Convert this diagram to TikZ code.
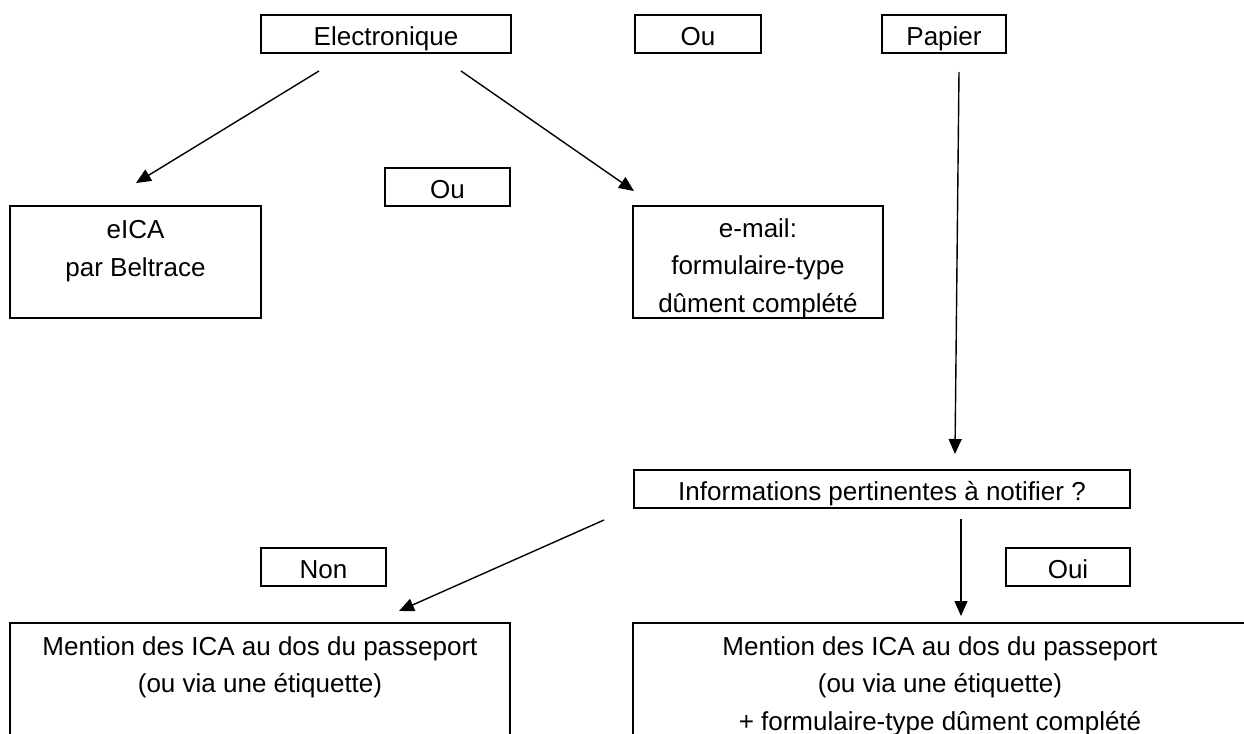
\documentclass[tikz,border=0pt]{standalone}
\usepackage{fontspec}
\setmainfont{Liberation Sans}
\usetikzlibrary{arrows.meta,calc}
\begin{document}
\begin{tikzpicture}[x=0.5pt,y=-0.5pt,
 font=\fontsize{13pt}{18.75pt}\selectfont,
 box/.style={draw,line width=1pt,inner sep=0pt,minimum height=19pt,text height=11.5pt,text depth=0pt},
 tbox/.style={draw,line width=1pt,inner sep=0pt},
 txt/.style={inner sep=0pt,align=center,anchor=north},
 arr/.style={line width=0.7pt,-{Triangle[length=7.5pt,width=6.5pt]}}]
\useasboundingbox (0,0) rectangle (1244,734);
\clip (0,0) rectangle (1244,734);
\node[box,minimum width=125pt] (elec) at (386,34) {Electronique};
\node[box,minimum width=63pt] (ou1) at (698,34) {Ou};
\node[box,minimum width=62pt] (pap) at (944,34) {Papier};
\node[box,minimum width=62.5pt] (ou2) at (447.5,187) {Ou};
\node[tbox,minimum width=125.5pt,minimum height=56pt] (eica) at (135.5,262) {};
\node[txt] (eicat) at (135.5,220) {eICA\\par Beltrace};
\node[tbox,minimum width=125pt,minimum height=56pt] (email) at (758,262) {};
\node[txt] (emailt) at (758,218) {e-mail:\\formulaire-type\\dûment complété};
\node[box,minimum width=248pt] (info) at (882,489) {Informations pertinentes à notifier ?};
\node[box,minimum width=62.5pt] (non) at (323.5,567) {Non};
\node[box,minimum width=62pt] (oui) at (1068,567) {Oui};
\node[tbox,minimum width=250pt,minimum height=75pt] (bl) at (260,698) {};
\node[txt] (blt) at (260,636) {Mention des ICA au dos du passeport\\(ou via une étiquette)};
\node[tbox,minimum width=307pt,minimum height=75pt] (br) at (940,698) {};
\node[txt] (brt) at (940,636) {Mention des ICA au dos du passeport\\(ou via une étiquette)\\+ formulaire-type dûment complété};
\draw[arr] ($(elec.south)+(-67,17)$) -- ($(eica.north)+(0.5,-22)$);
\draw[arr] ($(elec.south)+(75,17)$) -- ($(email.north)+(-124,-14)$);
\draw[arr] ($(pap.south)+(15,18)$) -- ($(info.north)+(73,-15)$);
\draw[arr] ($(info.south west)+(-29,11)$) -- ($(bl.north)+(139,-11)$);
\draw[arr] ($(info.south)+(79,10)$) -- ($(br.north)+(21,-6)$);
\end{tikzpicture}
\end{document}
